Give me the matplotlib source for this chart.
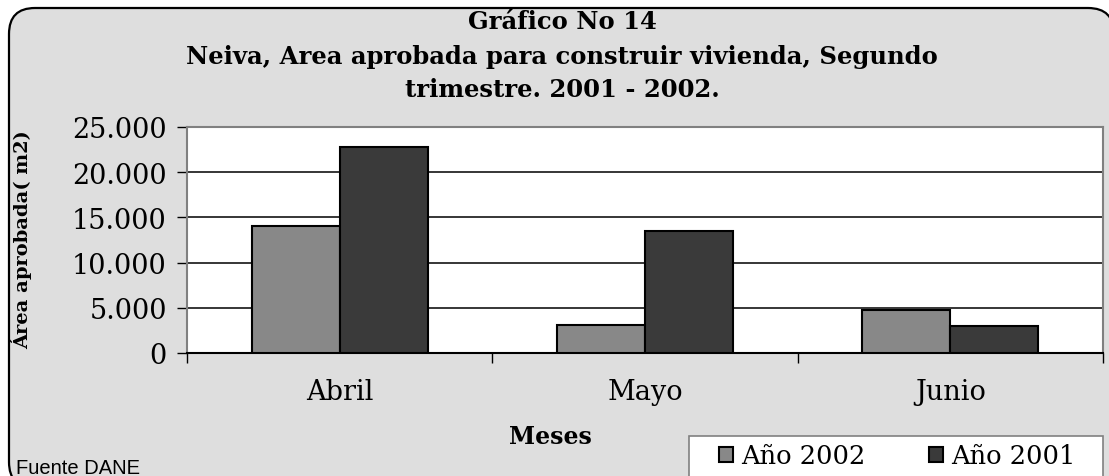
import matplotlib
matplotlib.use("Agg")
import matplotlib.pyplot as plt
import numpy as np
from matplotlib.patches import FancyBboxPatch, Rectangle
from matplotlib.ticker import FixedLocator

# ---- data ----
categories = ["Abril", "Mayo", "Junio"]
series_names = ["Año 2002", "Año 2001"]
values_2002 = [14000, 3060, 4800]
values_2001 = [22830, 13470, 3030]
yticks = [0, 5000, 10000, 15000, 20000, 25000]
ytick_labels = ["0", "5.000", "10.000", "15.000", "20.000", "25.000"]
title_lines = ["Gráfico No 14",
               "Neiva, Area aprobada para construir vivienda, Segundo",
               "trimestre. 2001 - 2002."]

W, H = 1109, 477
fig = plt.figure(figsize=(W / 100, H / 100), dpi=100)
fig.patch.set_facecolor("white")

serif = ["DejaVu Serif"]

# rounded chart frame
frame = FancyBboxPatch((0.09, -0.12), 11.05, 4.80,
                       boxstyle="round,pad=0,rounding_size=0.26",
                       transform=fig.dpi_scale_trans,
                       facecolor="#dedede", edgecolor="black", lw=1.6,
                       zorder=-5)
fig.patches.append(frame)

ax = fig.add_axes([187 / W, 1 - 354 / H, (1103 - 187) / W, (354 - 128) / H])
ax.set_facecolor("white")

x = np.arange(len(categories))
bw = 0.288
b1 = ax.bar(x - bw / 2, values_2002, bw, color="#888888", edgecolor="black",
            lw=1.5, zorder=3, label=series_names[0])
b2 = ax.bar(x + bw / 2, values_2001, bw, color="#3a3a3a", edgecolor="black",
            lw=1.5, zorder=3, label=series_names[1])

ax.set_xlim(-0.5, 2.5)
ax.set_ylim(0, 25000)
ax.yaxis.set_major_locator(FixedLocator(yticks))
ax.set_yticklabels(ytick_labels, fontfamily=serif, fontsize=19.5)
ax.yaxis.grid(True, color="black", lw=1.1, zorder=1)
ax.set_axisbelow(True)

ax.set_xticks(x)
ax.set_xticklabels(categories, fontfamily=serif, fontsize=19.5)
ax.set_xticks([-0.5, 0.5, 1.5, 2.5], minor=True)
ax.tick_params(axis="x", which="major", length=0, pad=18)
ax.tick_params(axis="x", which="minor", length=7, width=1, color="black")
ax.tick_params(axis="y", length=7.5, width=1, pad=7, color="black")

for s in ax.spines.values():
    s.set_color("#808080")
    s.set_linewidth(1.5)
ax.spines["bottom"].set_color("black")

# titles
ys = [22, 57, 90]
for t, yy in zip(title_lines, ys):
    fig.text(562 / W, 1 - yy / H, t, ha="center", va="center",
             fontfamily=serif, fontweight="bold", fontsize=17.5)

fig.text(21 / W, 1 - 240 / H, "Área aprobada( m2)", rotation=90,
         ha="center", va="center", fontfamily=serif, fontweight="bold",
         fontsize=14)
fig.text(550 / W, 1 - 437 / H, "Meses", ha="center", va="center",
         fontfamily=serif, fontweight="bold", fontsize=17)
fig.text(16 / W, 1 - 469 / H, "Fuente DANE", ha="left", va="center",
         fontfamily=["Liberation Sans"], fontsize=14.5)

# legend box
fig.patches.append(Rectangle((689 / W, -0.05), (1103 - 689) / W,
                             1 - 437 / H + 0.05, transform=fig.transFigure,
                             facecolor="white", edgecolor="#808080", lw=1.2,
                             zorder=1))
leg = fig.legend(handles=[b1, b2], labels=series_names, ncol=2,
                 loc="center left", bbox_to_anchor=(719 / W, 1 - 457 / H),
                 prop={"family": "DejaVu Serif", "size": 18.5},
                 frameon=False,
                 handlelength=0.55, handleheight=0.55, handletextpad=0.3,
                 columnspacing=2.5, borderpad=0, borderaxespad=0)
leg.set_zorder(2)

fig.savefig("out.png", dpi=100)
